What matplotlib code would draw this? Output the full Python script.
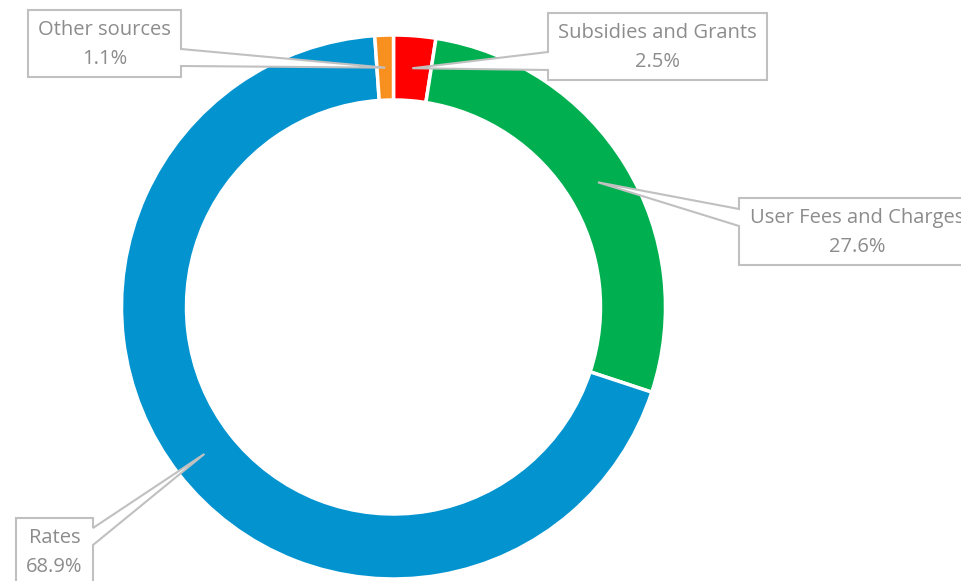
import numpy as np
import matplotlib.pyplot as plt
from matplotlib.patches import Polygon

# ---- DATA ---- #
labels = ['Subsidies and Grants', 'User Fees and Charges', 'Rates', 'Other sources']
shares = [2.5, 27.6, 68.9, 1.1]
colors = ['#ff0000', '#00b050', '#0394d0', '#f7901e']

# callout boxes in pixels: (left, top, right, bottom), pointer base y on box side
boxes = [(548, 13, 767, 80, 'left', 52, 70),
         (739, 198, 975, 265, 'left', 209, 226),
         (16, 518, 93, 590, 'right', 528, 545),
         (28, 10, 181, 77, 'right', 49, 66)]

W, H = 961, 581
cx, cy, r_out, r_in = 393.5, 307, 272, 207
txt_color = '#8c8c8c'
line_color = '#c0c0c0'

fig = plt.figure(figsize=(W / 100, H / 100), dpi=100)
ax = fig.add_axes([(cx - r_out) / W, (H - cy - r_out) / H,
                   2 * r_out / W, 2 * r_out / H])
wedges, _ = ax.pie(shares, colors=colors, startangle=90, counterclock=False,
                   radius=1, wedgeprops=dict(width=1 - r_in / r_out,
                                             edgecolor='white', linewidth=2.5))
ax.set_xlim(-1, 1)
ax.set_ylim(-1, 1)
ax.set_aspect('equal')
ax.axis('off')

# ---- CALLOUTS ---- #
ov = fig.add_axes([0, 0, 1, 1], zorder=5)
ov.set_xlim(0, W)
ov.set_ylim(H, 0)
ov.axis('off')

r_mid = (r_out + r_in) / 2
for w, lbl, val, b in zip(wedges, labels, shares, boxes):
    ang = np.deg2rad((w.theta1 + w.theta2) / 2)
    tx = cx + r_mid * np.cos(ang)
    ty = cy - r_mid * np.sin(ang)
    x0, y0, x1, y1, side, p0, p1 = b
    if side == 'left':
        pts = [(x0, y0), (x1, y0), (x1, y1), (x0, y1), (x0, p1), (tx, ty), (x0, p0)]
    else:
        pts = [(x0, y0), (x1, y0), (x1, p0), (tx, ty), (x1, p1), (x1, y1), (x0, y1)]
    ov.add_patch(Polygon(pts, closed=True, facecolor='white',
                         edgecolor=line_color, linewidth=1.5))
    xm = (x0 + x1) / 2
    ov.text(xm, y0 + 20, lbl, ha='center', va='center', fontsize=14.5,
            family='Open Sans', color=txt_color)
    ov.text(xm, y0 + 49, f'{val}%', ha='center', va='center', fontsize=14.5,
            family='Open Sans', color=txt_color)

fig.savefig('out.png', dpi=100)
